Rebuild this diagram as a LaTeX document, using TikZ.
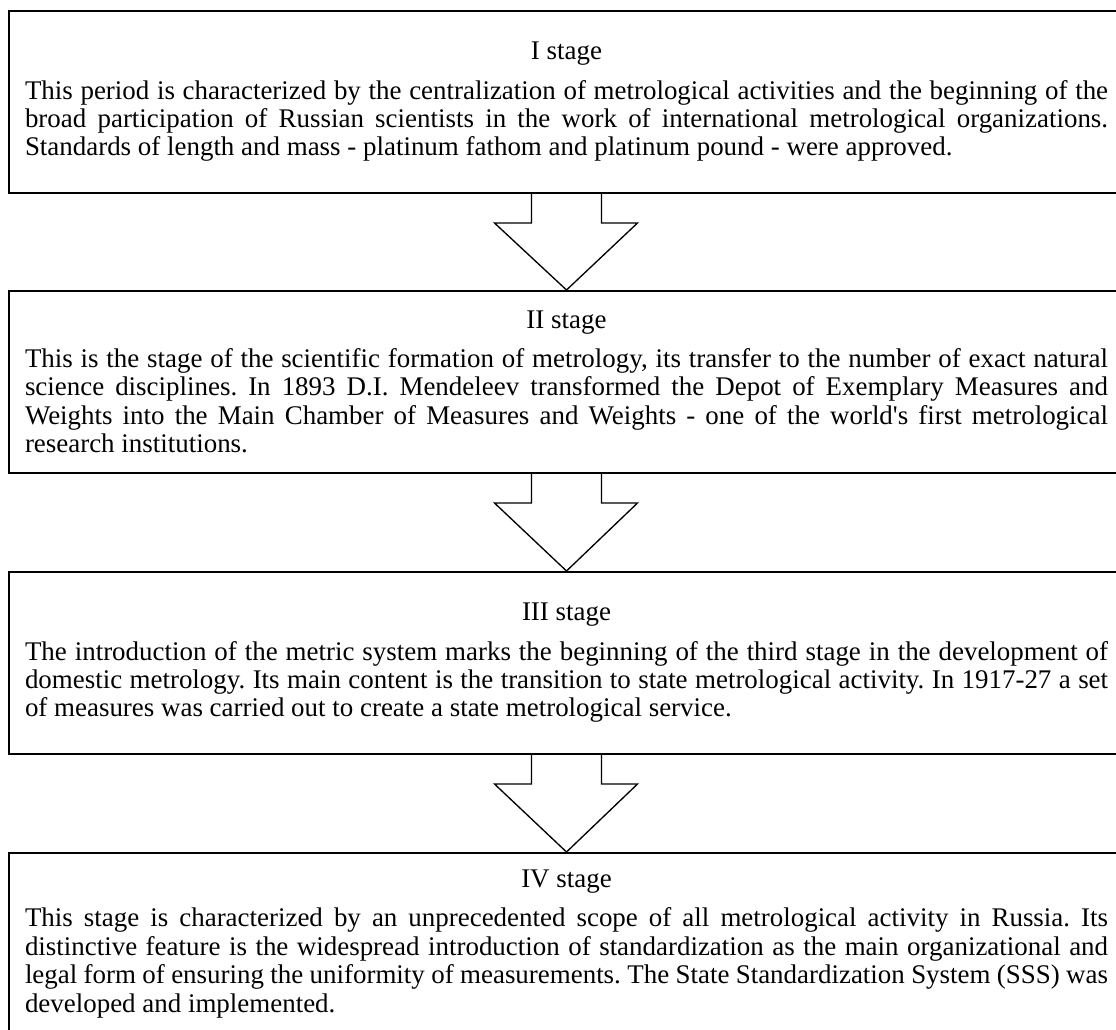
\documentclass[tikz,border=0pt]{standalone}
\usepackage{fontspec}
\setmainfont{Liberation Serif}
\usetikzlibrary{calc}

\tikzset{
    stagebox/.style={draw, line width=1.5pt, minimum width=836.25pt,
        minimum height=136.5pt, text width=812.25pt, inner sep=0pt,
        align=justify, font=\fontsize{20.2pt}{21.3pt}\selectfont},
    arrowline/.style={draw, line width=1pt, line join=miter}
}
\newcommand\stagetext[2]{\frenchspacing\centerline{#1}\par\vspace{8pt}\noindent #2}
\newcommand\stagearrow[2]{\draw[arrowline] ($(#1.south)+(-35,0)$) -- ++(0,29)
    -- ++(-37,0) -- (#2.north) -- ($(#1.south)+(71,29)$) -- ++(-36,0) --
    ++(0,-29);}

\begin{document}
\begin{tikzpicture}[x=0.75pt, y=-0.75pt]
    \useasboundingbox (0,0) rectangle (1116,1030);

    \node[stagebox] (s1) at (566.5,102) {\stagetext{I stage}{This period is
    characterized by the centralization of metrological activities and the
    beginning of the\linebreak broad participation of Russian scientists in
    the work of international metrological organizations.\linebreak Standards
    of length and mass - platinum fathom and platinum pound - were approved.}};

    \node[stagebox] (s2) at (566.5,382) {\stagetext{II stage}{This is the
    stage of the scientific formation of metrology, its transfer to the number
    of exact natural\linebreak science disciplines. In 1893 D.I. Mendeleev
    transformed the Depot of Exemplary Measures and\linebreak Weights into the
    Main Chamber of Measures and Weights - one of the
    world\textquotesingle s first metrological\linebreak research
    institutions.}};

    \node[stagebox] (s3) at (566.5,663) {\stagetext{III stage}{The
    introduction of the metric system marks the beginning of the third stage
    in the development of\linebreak domestic metrology. Its main content is
    the transition to state metrological activity. In 1917-27 a
    set\linebreak of measures was carried out to create a state metrological
    service.}};

    \node[stagebox] (s4) at (566.5,944) {\stagetext{IV stage}{This stage is
    characterized by an unprecedented scope of all metrological activity in
    Russia. Its\linebreak distinctive feature is the widespread introduction
    of standardization as the main organizational and\linebreak legal form of
    ensuring the uniformity of measurements. The State Standardization System
    (SSS) was\linebreak developed and implemented.}};

    \stagearrow{s1}{s2}
    \stagearrow{s2}{s3}
    \stagearrow{s3}{s4}
\end{tikzpicture}
\end{document}
